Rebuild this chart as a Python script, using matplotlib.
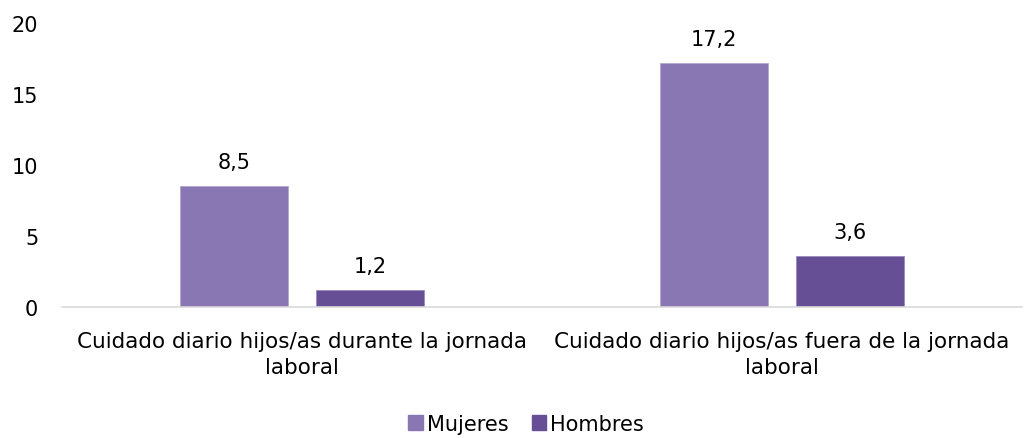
import matplotlib
matplotlib.use("Agg")
import matplotlib.pyplot as plt
import numpy as np
from matplotlib.patches import Patch

categories = [
    "Cuidado diario hijos/as durante la jornada\nlaboral",
    "Cuidado diario hijos/as fuera de la jornada\nlaboral",
]
series_names = ["Mujeres", "Hombres"]
mujeres = [8.5, 17.2]
hombres = [1.2, 3.6]
value_labels_m = ["8,5", "17,2"]
value_labels_h = ["1,2", "3,6"]
y_ticks = [0, 5, 10, 15, 20]

col_m = "#8977B3"
col_h = "#674F96"

plt.rcParams["font.family"] = ["DejaVu Sans"]
fs = 15

fig = plt.figure(figsize=(10.24, 4.39), dpi=100)
ax = fig.add_axes([0.0605, 0.2984, 0.9375, 0.6466])

x = np.arange(len(categories))
w = 0.225
off = 0.142
bm = ax.bar(x - off, mujeres, w, color=col_m, edgecolor="#B3A6D2", linewidth=0.6)
bh = ax.bar(x + off, hombres, w, color=col_h, edgecolor="#9A8BC0", linewidth=0.6)

for bars, labels in ((bm, value_labels_m), (bh, value_labels_h)):
    for b, t in zip(bars, labels):
        ax.annotate(t, (b.get_x() + b.get_width() / 2, b.get_height()),
                    xytext=(0, 10), textcoords="offset points",
                    ha="center", va="bottom", fontsize=fs, color="#000000")

ax.set_xlim(-0.5, 1.5)
ax.set_ylim(0, 20)
ax.set_yticks(y_ticks)
ax.set_yticklabels([str(v) for v in y_ticks], fontsize=fs)
ax.set_xticks(x)
ax.set_xticklabels(categories, fontsize=15.5, linespacing=1.4)

for s in ("top", "right", "left"):
    ax.spines[s].set_visible(False)
ax.spines["bottom"].set_color("#D9D9D9")
ax.spines["bottom"].set_linewidth(1.2)
ax.tick_params(axis="both", length=0, colors="#000000")
ax.tick_params(axis="y", pad=17)
ax.tick_params(axis="x", pad=17)

handles = [Patch(color=col_m), Patch(color=col_h)]
fig.legend(handles, series_names, loc="center", bbox_to_anchor=(0.514, 0.032),
           ncol=2, frameon=False, fontsize=fs, handlelength=0.7,
           handleheight=0.7, handletextpad=0.2, columnspacing=1.1)

fig.savefig("out.png", dpi=100)
